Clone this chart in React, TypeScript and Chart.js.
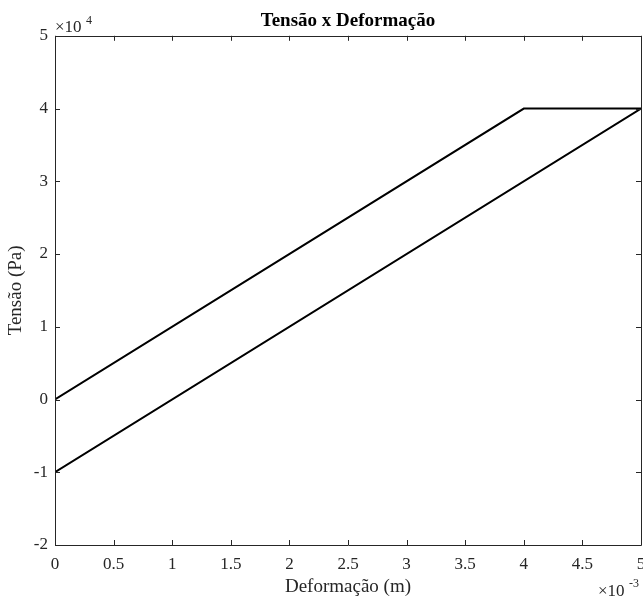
import React, { useEffect, useRef } from "react";
import { Chart, registerables } from "chart.js";
Chart.register(...registerables);

const strainX = [0, 0.004, 0.005, 0];
const stressY = [0, 40000, 40000, -10000];
const xTicks = [0, 0.0005, 0.001, 0.0015, 0.002, 0.0025, 0.003, 0.0035, 0.004, 0.0045, 0.005];
const yTicks = [-20000, -10000, 0, 10000, 20000, 30000, 40000, 50000];
const titleText = "Tensão x Deformação";
const xLabel = "Deformação (m)";
const yLabel = "Tensão (Pa)";

const FONT = "'Liberation Serif', 'Times New Roman', serif";
const AXIS = "#262626";

const boxPlugin = {
  id: "matlabBox",
  afterDraw(chart: any) {
    const { ctx, chartArea } = chart;
    const { left, right, top, bottom } = chartArea;
    const xs = chart.scales.x;
    const ys = chart.scales.y;
    ctx.save();
    ctx.strokeStyle = AXIS;
    ctx.lineWidth = 1;
    ctx.beginPath();
    ctx.rect(Math.round(left) + 0.5, Math.round(top) + 0.5, Math.round(right - left), Math.round(bottom - top));
    ctx.stroke();
    const L = 5;
    ctx.beginPath();
    xTicks.forEach((v) => {
      const px = Math.round(xs.getPixelForValue(v)) + 0.5;
      ctx.moveTo(px, bottom);
      ctx.lineTo(px, bottom - L);
      ctx.moveTo(px, top);
      ctx.lineTo(px, top + L);
    });
    yTicks.forEach((v) => {
      const py = Math.round(ys.getPixelForValue(v)) + 0.5;
      ctx.moveTo(left, py);
      ctx.lineTo(left + L, py);
      ctx.moveTo(right, py);
      ctx.lineTo(right - L, py);
    });
    ctx.stroke();
    ctx.fillStyle = AXIS;
    ctx.textBaseline = "alphabetic";
    ctx.textAlign = "left";
    ctx.font = `17px ${FONT}`;
    ctx.fillText("×10", left, top - 4);
    ctx.font = `12px ${FONT}`;
    ctx.fillText("4", left + 31, top - 12);
    ctx.font = `17px ${FONT}`;
    ctx.fillText("×10", right - 43, 596);
    ctx.font = `12px ${FONT}`;
    ctx.fillText("-3", right - 12, 587);
    ctx.restore();
  },
};

export default function App() {
  const ref = useRef<HTMLCanvasElement>(null);
  useEffect(() => {
    document.body.style.margin = "0";
    const chart = new Chart(ref.current!, {
      type: "line",
      data: {
        datasets: [
          {
            data: strainX.map((x, i) => ({ x, y: stressY[i] })),
            borderColor: "#000000",
            borderWidth: 2,
            pointRadius: 0,
            fill: false,
            tension: 0,
          },
        ],
      },
      options: {
        animation: false,
        responsive: false,
        maintainAspectRatio: false,
        layout: { padding: { top: 0, right: 2, bottom: 0, left: 0 } },
        plugins: {
          legend: { display: false },
          tooltip: { enabled: false },
          title: {
            display: true,
            text: titleText,
            fullSize: false,
            color: "#000000",
            font: { family: FONT, size: 19, weight: "bold" },
            padding: { top: 10, bottom: 3 },
          },
        },
        scales: {
          x: {
            type: "linear",
            min: 0,
            max: 0.005,
            afterBuildTicks: (s: any) => {
              s.ticks = xTicks.map((v) => ({ value: v }));
            },
            afterFit: (s: any) => {
              s.height = 52;
              s.paddingRight = 0;
              s.paddingLeft = 0;
            },
            grid: { display: false, drawTicks: false },
            border: { display: false },
            ticks: {
              color: AXIS,
              padding: 9,
              maxRotation: 0,
              autoSkip: false,
              font: { family: FONT, size: 17 },
              callback: (v: any) => String(Math.round(Number(v) * 10000) / 10),
            },
            title: {
              display: true,
              text: xLabel,
              color: AXIS,
              font: { family: FONT, size: 19, lineHeight: 1 },
              padding: { top: 0, bottom: 0 },
            },
          },
          y: {
            type: "linear",
            min: -20000,
            max: 50000,
            afterBuildTicks: (s: any) => {
              s.ticks = yTicks.map((v) => ({ value: v }));
            },
            afterFit: (s: any) => {
              s.width = 55;
              s.paddingTop = 0;
              s.paddingBottom = 0;
            },
            grid: { display: false, drawTicks: false },
            border: { display: false },
            ticks: {
              color: AXIS,
              padding: 7,
              autoSkip: false,
              font: { family: FONT, size: 17 },
              callback: (v: any) => String(Number(v) / 10000),
            },
            title: {
              display: true,
              text: yLabel,
              color: AXIS,
              font: { family: FONT, size: 19, lineHeight: 1 },
              padding: { top: 7, bottom: 0 },
            },
          },
        },
      },
      plugins: [boxPlugin],
    });
    return () => chart.destroy();
  }, []);
  return (
    <div style={{ position: "fixed", left: 0, top: 0, width: 643, height: 597, background: "#fff" }}>
      <canvas ref={ref} width={643} height={597} style={{ width: 643, height: 597 }} />
    </div>
  );
}
